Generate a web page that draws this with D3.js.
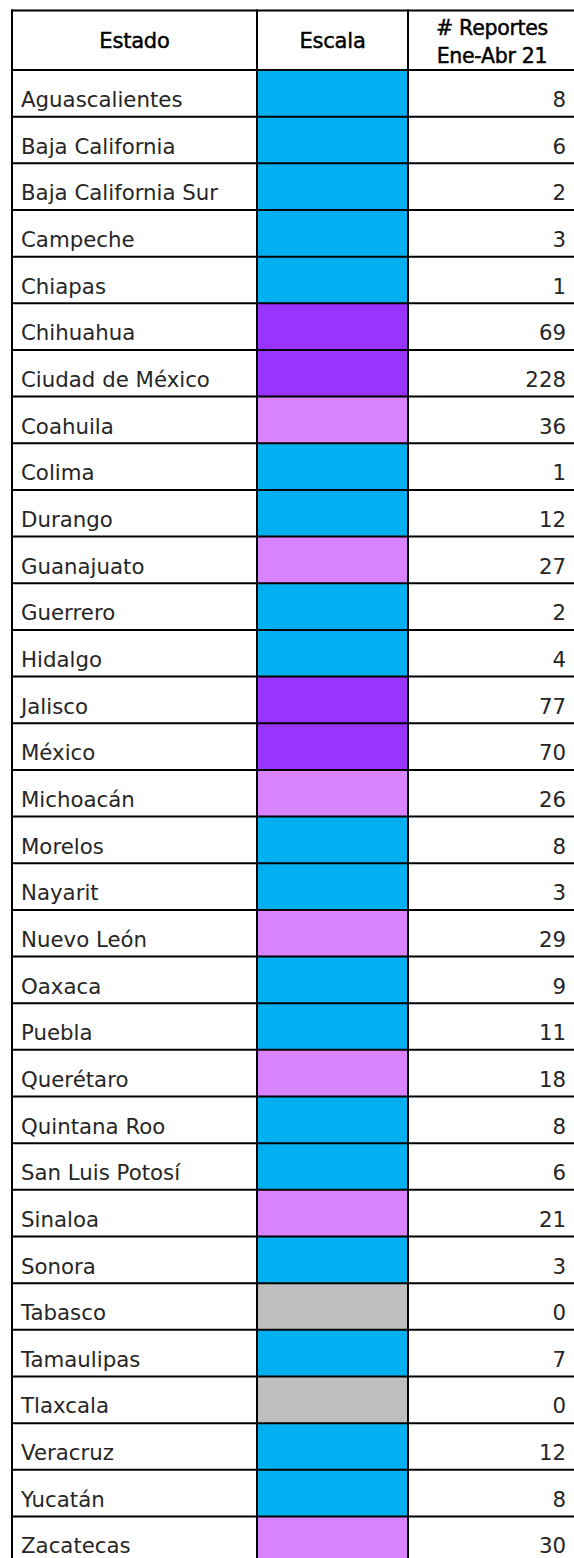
<!DOCTYPE html>
<html>
<head>
<meta charset="utf-8">
<script src="https://cdn.jsdelivr.net/npm/d3@7"></script>
<style>
  html, body { margin: 0; padding: 0; background: #fff; }
  svg { display: block; }
</style>
</head>
<body>
<svg id="chart" width="574" height="1558"></svg>
<script>
const headers = ["Estado", "Escala", ["# Reportes", "Ene-Abr 21"]];
const states = ["Aguascalientes","Baja California","Baja California Sur","Campeche","Chiapas","Chihuahua","Ciudad de México","Coahuila","Colima","Durango","Guanajuato","Guerrero","Hidalgo","Jalisco","México","Michoacán","Morelos","Nayarit","Nuevo León","Oaxaca","Puebla","Querétaro","Quintana Roo","San Luis Potosí","Sinaloa","Sonora","Tabasco","Tamaulipas","Tlaxcala","Veracruz","Yucatán","Zacatecas"];
const reports = [8,6,2,3,1,69,228,36,1,12,27,2,4,77,70,26,8,3,29,9,11,18,8,6,21,3,0,7,0,12,8,30];
const scaleThresholds = [1, 15, 50];
const scaleColors = ["#BFBFBF", "#00B0F0", "#D883FF", "#9933FF"];

(function () {
const svg = d3.select("#chart");
const FONT = "'DejaVu Sans', Verdana, sans-serif";

const leftX = 12, topY = 10.5, headBottom = 70, rowH = 46.66;
const colEdges = [leftX, 257, 408, 576];

const y = d3.scaleBand().domain(states).range([headBottom, headBottom + rowH * states.length]).padding(0);
const color = d3.scaleThreshold().domain(scaleThresholds).range(scaleColors);

const data = states.map((s, i) => ({ state: s, value: reports[i] }));

// Escala colour cells
svg.append("g").selectAll("rect").data(data).join("rect")
  .attr("x", colEdges[1]).attr("width", colEdges[2] - colEdges[1])
  .attr("y", d => y(d.state)).attr("height", y.bandwidth())
  .attr("fill", d => color(d.value));

// State names
svg.append("g").selectAll("text").data(data).join("text")
  .attr("x", leftX + 9).attr("y", d => y(d.state) + 37)
  .attr("font-family", FONT).attr("font-size", 21.3).attr("fill", "#262626")
  .text(d => d.state);

// Values
svg.append("g").selectAll("text").data(data).join("text")
  .attr("x", 566).attr("y", d => y(d.state) + 37)
  .attr("text-anchor", "end")
  .attr("font-family", FONT).attr("font-size", 21.3).attr("fill", "#262626")
  .text(d => d.value);

// Headers
const hg = svg.append("g").attr("font-family", FONT).attr("fill", "#000")
  .attr("stroke", "#000").attr("stroke-width", 0.45).attr("text-anchor", "middle");
headers.forEach((h, i) => {
  const cx = (colEdges[i] + colEdges[i+1]) / 2;
  if (Array.isArray(h)) {
    hg.append("text").attr("x", cx).attr("y", 35).attr("font-size", 20.5).attr("letter-spacing", -0.3).text(h[0]);
    hg.append("text").attr("x", cx).attr("y", 63).attr("font-size", 20.5).attr("letter-spacing", -0.3).text(h[1]);
  } else {
    hg.append("text").attr("x", cx).attr("y", 48).attr("font-size", 21).attr("letter-spacing", -0.2).text(h);
  }
});

// Grid lines
const bottom = headBottom + rowH * states.length;
const lines = svg.append("g").attr("stroke", "#000").attr("stroke-width", 2);
const hys = [topY, headBottom].concat(states.map(s => y(s) + y.bandwidth()));
lines.selectAll("line.h").data(hys).join("line").attr("class", "h")
  .attr("x1", leftX - 1).attr("x2", colEdges[3]).attr("y1", d => d).attr("y2", d => d);
lines.selectAll("line.v").data(colEdges).join("line").attr("class", "v")
  .attr("x1", d => d).attr("x2", d => d).attr("y1", topY - 1).attr("y2", bottom + 1);
})();
</script>
</body>
</html>
